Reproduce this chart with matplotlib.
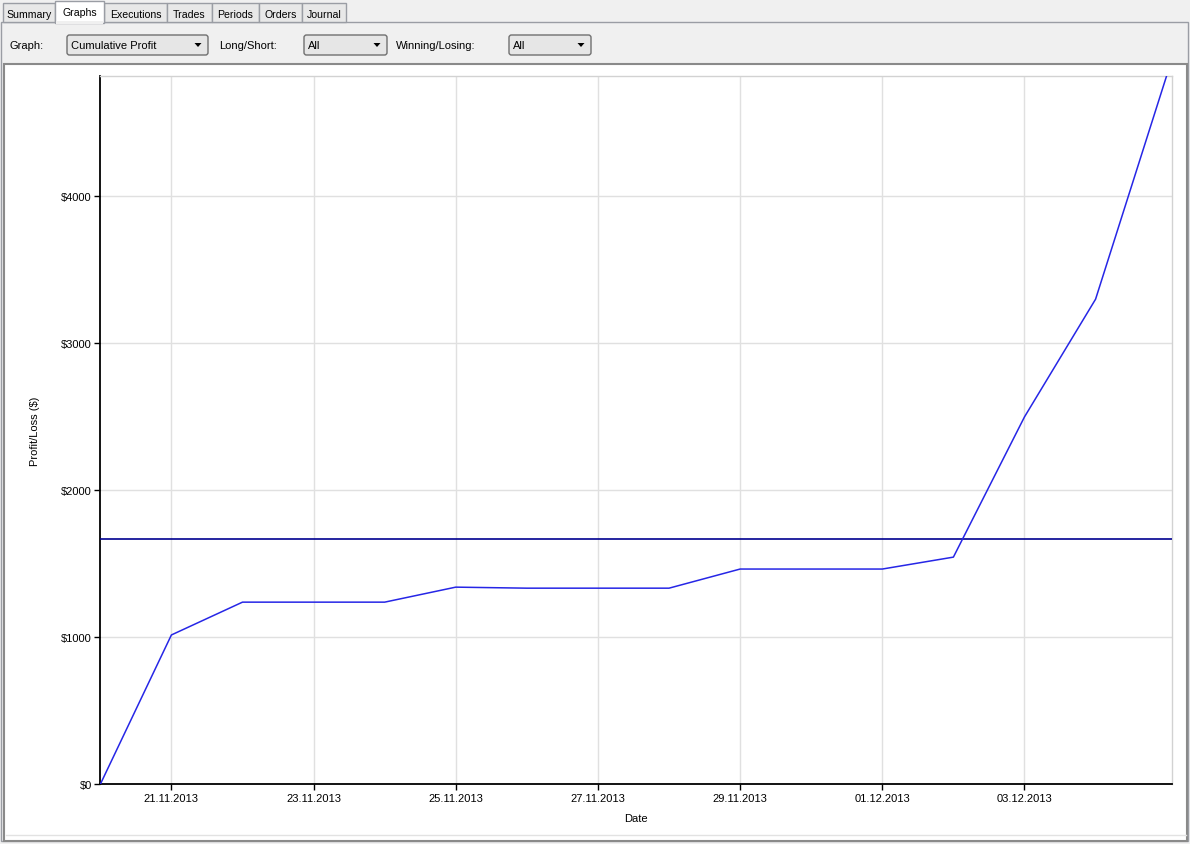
import matplotlib
matplotlib.use("Agg")
import matplotlib.pyplot as plt
import matplotlib.dates as mdates
from matplotlib.patches import Rectangle, FancyBboxPatch, Polygon
from matplotlib.ticker import FuncFormatter
import pandas as pd

plt.rcParams['font.family'] = ['Liberation Sans', 'DejaVu Sans']
plt.rcParams['font.size'] = 8

# cumulative profit per day
dates = ['2013-11-20', '2013-11-21', '2013-11-22', '2013-11-23', '2013-11-24',
         '2013-11-25', '2013-11-26', '2013-11-27', '2013-11-28', '2013-11-29',
         '2013-11-30', '2013-12-01', '2013-12-02', '2013-12-03', '2013-12-04',
         '2013-12-05']
profit = [0, 1015, 1238, 1238, 1238, 1340, 1333, 1333, 1333, 1463,
          1463, 1463, 1544, 2497, 3297, 4816]
avg_line = 1667

tab_names = ['Summary', 'Graphs', 'Executions', 'Trades', 'Periods', 'Orders', 'Journal']
tab_edges = [3, 55, 104, 167, 212, 259, 302, 346]
selected_tab = 'Graphs'

W, H = 1190, 845
fig = plt.figure(figsize=(W / 100, H / 100), dpi=100)
fig.patch.set_facecolor('#F0F0F0')

# ---- window chrome drawn in pixel coords ----
bg = fig.add_axes([0, 0, 1, 1])
bg.set_xlim(0, W)
bg.set_ylim(H, 0)
bg.axis('off')

bg.add_patch(Rectangle((1, 23), 1187, 819, facecolor='#F0F0F0', edgecolor='#9A9DA4', lw=1))

for i, name in enumerate(tab_names):
    x0, x1 = tab_edges[i], tab_edges[i + 1]
    if name == selected_tab:
        continue
    bg.add_patch(Rectangle((x0, 4), x1 - x0, 19, facecolor='#E8E8E8', edgecolor='#9A9DA4', lw=1))
    bg.text((x0 + x1) / 2, 14.5, name, ha='center', va='center', fontsize=7.6, color='#000000')
i = tab_names.index(selected_tab)
x0, x1 = tab_edges[i], tab_edges[i + 1]
bg.add_patch(Rectangle((x0, 2), x1 - x0, 22, facecolor='#FFFFFF', edgecolor='#9A9DA4', lw=1))
bg.add_patch(Rectangle((x0 + 0.8, 22), x1 - x0 - 1.6, 3, facecolor='#F0F0F0', edgecolor='none'))
bg.text((x0 + x1) / 2, 12.5, selected_tab, ha='center', va='center', fontsize=7.6, color='#000000')

# toolbar
labels = [('Graph:', 9), ('Long/Short:', 219), ('Winning/Losing:', 396)]
for txt, x in labels:
    bg.text(x, 46, txt, ha='left', va='center', fontsize=8, color='#000000')

combos = [('Cumulative Profit', 67, 208), ('All', 304, 387), ('All', 509, 591)]
for txt, cx0, cx1 in combos:
    bg.add_patch(FancyBboxPatch((cx0 + 1.5, 37.5), cx1 - cx0 - 3, 17,
                                boxstyle='round,pad=1.5,rounding_size=2.5',
                                facecolor='#E6E6E6', edgecolor='#707070', lw=1))
    bg.text(cx0 + 4, 46, txt, ha='left', va='center', fontsize=8, color='#000000')
    ax_c = cx1 - 10
    bg.add_patch(Polygon([(ax_c - 3.5, 44), (ax_c + 3.5, 44), (ax_c, 48)],
                         closed=True, facecolor='#000000', edgecolor='none'))

# chart panel
bg.add_patch(Rectangle((4, 65), 1183, 777, facecolor='#FFFFFF', edgecolor='#8A8A8A', lw=1.5))
bg.plot([6, 1186], [836, 836], color='#E2E2E2', lw=1)

# ---- the chart ----
left, right, top, bottom = 100.3, 1171.7, 76.7, 785.3
ax = fig.add_axes([left / W, (H - bottom) / H, (right - left) / W, (bottom - top) / H])
ax.set_facecolor('#FFFFFF')

x = pd.to_datetime(dates)
ax.axhline(avg_line, color='#000090', lw=1.2, zorder=3)
ax.plot(x, profit, color='#2626E6', lw=1.1, zorder=4)

ax.set_xlim(x[0], x[-1] + pd.Timedelta(hours=1.7))
ax.set_ylim(0, max(profit))

ax.xaxis.set_major_locator(mdates.DayLocator(bymonthday=[21, 23, 25, 27, 29, 1, 3]))
ax.xaxis.set_major_formatter(mdates.DateFormatter('%d.%m.%Y'))
ax.set_yticks([0, 1000, 2000, 3000, 4000])
ax.yaxis.set_major_formatter(FuncFormatter(lambda v, p: '$%d' % v))

ax.grid(True, color='#E0E0E0', lw=1)
ax.set_axisbelow(True)
for s in ['top', 'right']:
    ax.spines[s].set_color('#D2D2D2')
    ax.spines[s].set_linewidth(1)
for s in ['left', 'bottom']:
    ax.spines[s].set_color('#000000')
    ax.spines[s].set_linewidth(1.3)

ax.tick_params(direction='out', length=4, width=1, labelsize=8, pad=2, colors='#000000')

ax.set_xlabel('Date', fontsize=8)
ax.xaxis.set_label_coords(0.5, -0.041)
ax.set_ylabel('Profit/Loss ($)', fontsize=8)
ax.yaxis.set_label_coords(-0.056, 0.5)

fig.savefig('out.png', dpi=100, facecolor=fig.get_facecolor())
